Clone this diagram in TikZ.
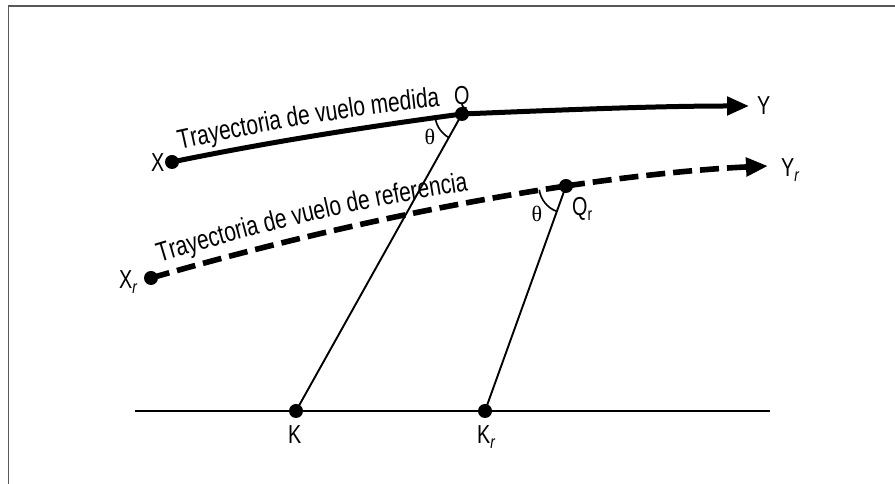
\documentclass[tikz,border=0pt]{standalone}
\usepackage{fontspec}
\setmainfont{Liberation Sans}[FakeStretch=0.76]
\newfontfamily\grkfont{Liberation Serif}
\usetikzlibrary{arrows.meta,decorations.text}
\newcommand\lblfont{\fontsize{26}{26}\selectfont}
\newcommand\curvefont{\fontsize{27.5}{27.5}\selectfont}
\newcommand\subr[1]{\raisebox{-5pt}{\fontsize{18}{18}\selectfont #1}}
\begin{document}
\begin{tikzpicture}[x=1pt,y=1pt,
  dotnode/.style={circle,fill=black,inner sep=0pt,minimum size=14pt},
  lbl/.style={inner sep=0pt,anchor=base west,font=\lblfont},
  thinline/.style={line width=1.9pt},
  solidpath/.style={line width=5pt},
  dashpath/.style={line width=5.6pt,dash pattern=on 19pt off 8pt},
  arrowend/.style={-{Triangle[length=22pt,width=18pt]}},
  anglearc/.style={line width=1.6pt},
  framecol/.style={draw={rgb,255:red,88;green,88;blue,88},line width=1.6pt},
  thetalbl/.style={inner sep=0pt,font=\grkfont\fontsize{22}{22}\selectfont},
  curvetext/.style={decorate,decoration={text along path,text align=center,text={|\curvefont|#1}}}
]
\useasboundingbox (0,0) rectangle (895,484);
\draw[framecol] (8.5,0) -- (8.5,478) -- (895,478);

% points
\node[dotnode] (X) at (172,322) {};
\node[dotnode] (Q) at (462,370) {};
\node[dotnode] (Xr) at (151,206) {};
\node[dotnode] (Qr) at (566,298) {};
\node[dotnode] (K) at (296,73) {};
\node[dotnode] (Kr) at (485,73) {};
\coordinate (Yend) at (749,378);
\coordinate (Yrend) at (768,318);
\coordinate (Lstart) at (135,73);
\coordinate (Lend) at (770,73);

% ground line and sight lines
\draw[thinline] (Lstart) -- (Lend);
\draw[thinline] (K.center) -- (Q.center);
\draw[thinline] (Kr.center) -- (Qr.center);

% measured flight path
\draw[solidpath] (X.center) .. controls (269,342) and (365,357) .. (Q.center);
\draw[solidpath,arrowend] (Q.center) .. controls (560,374) and (655,378) .. (Yend);

% reference flight path
\draw[dashpath] (Xr.center) .. controls (289,246) and (428,277) .. (Qr.center);
\draw[dashpath,arrowend] (Qr.center) .. controls (633,308) and (701,315) .. (Yrend);

% angle arcs
\draw[anglearc] ([shift={(190:27)}]Q.center) arc[start angle=190,end angle=241,radius=27];
\draw[anglearc] ([shift={(188:27)}]Qr.center) arc[start angle=188,end angle=250,radius=27];
\node[thetalbl] (th1) at (430,347) {θ};
\node[thetalbl] (th2) at (537,270) {θ};

% labels
\node[lbl] (Ql) at (454,379) {Q};
\node[lbl] (Yl) at (757,369) {Y};
\node[lbl] (Yrl) at (781,307) {Y\subr{\itshape r}};
\node[lbl] (Xl) at (151,312) {X};
\node[lbl] (Xrl) at (119,195) {X\subr{\itshape r}};
\node[lbl] (Kl) at (288,40) {K};
\node[lbl] (Krl) at (477,40) {K\subr{\itshape r}};
\node[lbl] (Qrl) at (572,268) {Q\subr{r}};

% curved texts
\path[curvetext={Trayectoria de vuelo medida}] (174,333) .. controls (262,353) and (350,369) .. (446,378);
\path[curvetext={Trayectoria de vuelo de referencia}] (154,220) .. controls (262,253) and (365,278) .. (474,294);
\end{tikzpicture}
\end{document}
